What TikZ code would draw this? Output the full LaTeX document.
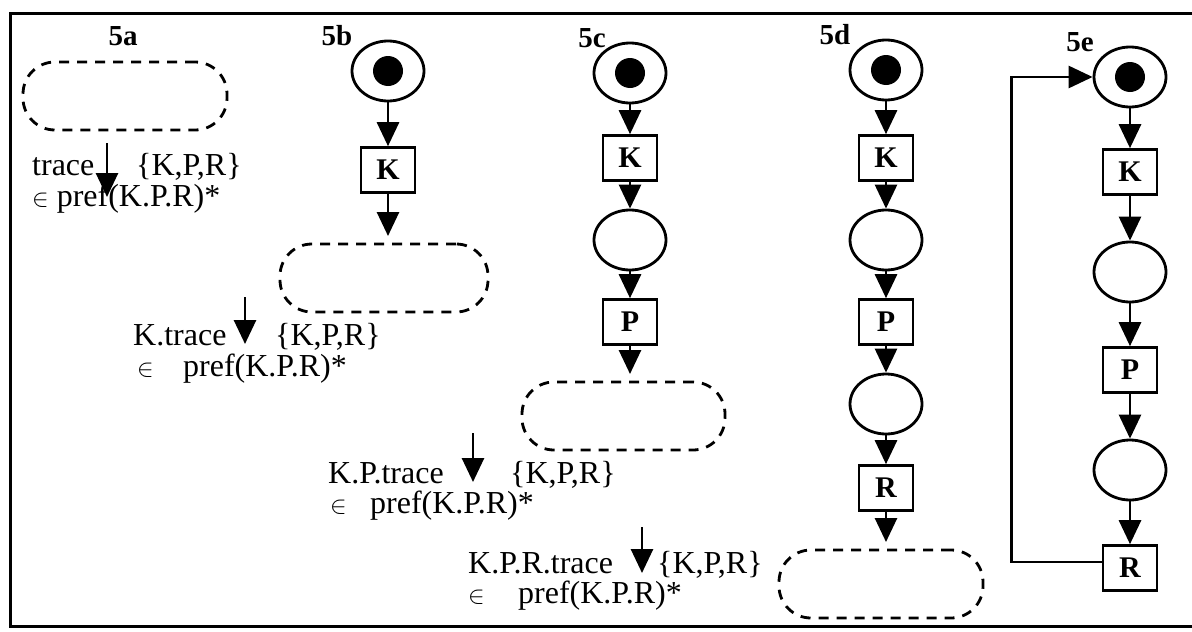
\documentclass[tikz,border=0pt]{standalone}
\usepackage{fontspec}
\setmainfont{Liberation Serif}
\usetikzlibrary{arrows.meta,shapes.geometric}
\begin{document}
\begin{tikzpicture}[x=1pt,y=-1pt,
  place/.style={ellipse,draw,line width=2.8pt,minimum width=72pt,minimum height=60pt,inner sep=0pt},
  trans/.style={rectangle,draw,line width=2.6pt,minimum width=54pt,minimum height=45pt,inner sep=0pt,font=\fontsize{30}{30}\selectfont\bfseries},
  hole/.style={rectangle,draw,rounded corners=32pt,line width=2.8pt,dash pattern=on 10pt off 8pt,minimum height=68pt,inner sep=0pt},
  arc/.style={line width=2.8pt,-{Triangle[width=22pt,length=24pt]}},
  txt/.style={anchor=base west,inner sep=0pt,font=\fontsize{32}{32}\selectfont},
  lab/.style={inner sep=0pt,font=\fontsize{29}{29}\selectfont\bfseries},
  token/.style={circle,fill=black,minimum size=30pt,inner sep=0pt},
]
\useasboundingbox (0,0) rectangle (1192,632);
\draw[line width=3pt] (1192,13) -- (10,13) -- (10,626) -- (1192,626);

% ---------- 5a ----------
\node[lab] (l5a) at (123,36) {5a};
\node[hole,minimum width=204pt] (h5a) at (125,96) {};
\coordinate (a5a1) at (107,143);
\coordinate (a5a2) at (107,197);
\draw[arc] (a5a1) -- (a5a2);
\node[txt] (t5a1) at (32,175) {trace};
\node[txt] (t5a2) at (136,175) {\{K,P,R\}};
\node[txt] (t5a3) at (32,206) {$\in$ pref(K.P.R)*};

% ---------- 5b ----------
\node[lab] (l5b) at (337,36) {5b};
\node[place] (p5b) at (388,71) {};
\node[token] (k5b) at (p5b.center) {};
\node[trans] (K5b) at (388,170) {K};
\node[hole,minimum width=208pt] (h5b) at (384,278) {};
\coordinate (e5b) at (388,236);
\draw[arc] (p5b) -- (K5b);
\draw[arc] (K5b) -- (e5b);
\coordinate (a5b1) at (245,297);
\coordinate (a5b2) at (245,344);
\draw[arc] (a5b1) -- (a5b2);
\node[txt] (t5b1) at (133,345) {K.trace};
\node[txt] (t5b2) at (275,345) {\{K,P,R\}};
\node[txt] (t5b3) at (137,376) {$\in$};
\node[txt] (t5b4) at (183,376) {pref(K.P.R)*};

% ---------- 5c ----------
\node[lab] (l5c) at (592,38) {5c};
\node[place] (p5c) at (630,73) {};
\node[token] (k5c) at (p5c.center) {};
\node[trans] (K5c) at (630,158) {K};
\node[place] (q5c) at (630,240) {};
\node[trans] (P5c) at (630,322) {P};
\node[hole,minimum width=203pt] (h5c) at (623.5,416) {};
\coordinate (e5c) at (630,374);
\draw[arc] (p5c) -- (K5c);
\draw[arc] (K5c) -- (q5c);
\draw[arc] (q5c) -- (P5c);
\draw[arc] (P5c) -- (e5c);
\coordinate (a5c1) at (473,433);
\coordinate (a5c2) at (473,482);
\draw[arc] (a5c1) -- (a5c2);
\node[txt] (t5c1) at (328,483) {K.P.trace};
\node[txt] (t5c2) at (510,483) {\{K,P,R\}};
\node[txt] (t5c3) at (330,513) {$\in$};
\node[txt] (t5c4) at (370,513) {pref(K.P.R)*};

% ---------- 5d ----------
\node[lab] (l5d) at (835,35) {5d};
\node[place] (p5d) at (886,70) {};
\node[token] (k5d) at (p5d.center) {};
\node[trans] (K5d) at (886,158) {K};
\node[place] (q5d) at (886,240) {};
\node[trans] (P5d) at (886,322) {P};
\node[place] (r5d) at (886,404) {};
\node[trans] (R5d) at (886,488) {R};
\node[hole,minimum width=204pt] (h5d) at (881,584) {};
\coordinate (e5d) at (886,542);
\draw[arc] (p5d) -- (K5d);
\draw[arc] (K5d) -- (q5d);
\draw[arc] (q5d) -- (P5d);
\draw[arc] (P5d) -- (r5d);
\draw[arc] (r5d) -- (R5d);
\draw[arc] (R5d) -- (e5d);
\coordinate (a5d1) at (642,527);
\coordinate (a5d2) at (642,573);
\draw[arc] (a5d1) -- (a5d2);
\node[txt] (t5d1) at (468,573) {K.P.R.trace};
\node[txt] (t5d2) at (657,573) {\{K,P,R\}};
\node[txt] (t5d3) at (468,603) {$\in$};
\node[txt] (t5d4) at (518,603) {pref(K.P.R)*};

% ---------- 5e ----------
\node[lab] (l5e) at (1080,42) {5e};
\node[place] (p5e) at (1130,77) {};
\node[token] (k5e) at (p5e.center) {};
\node[trans] (K5e) at (1130,172) {K};
\node[place] (q5e) at (1130,272) {};
\node[trans] (P5e) at (1130,370) {P};
\node[place] (r5e) at (1130,470) {};
\node[trans] (R5e) at (1130,568) {R};
\draw[arc] (p5e) -- (K5e);
\draw[arc] (K5e) -- (q5e);
\draw[arc] (q5e) -- (P5e);
\draw[arc] (P5e) -- (r5e);
\draw[arc] (r5e) -- (R5e);
\draw[arc] ([yshift=6pt]R5e.west) -- ++(-90,0) |- (p5e.west);
\end{tikzpicture}
\end{document}
